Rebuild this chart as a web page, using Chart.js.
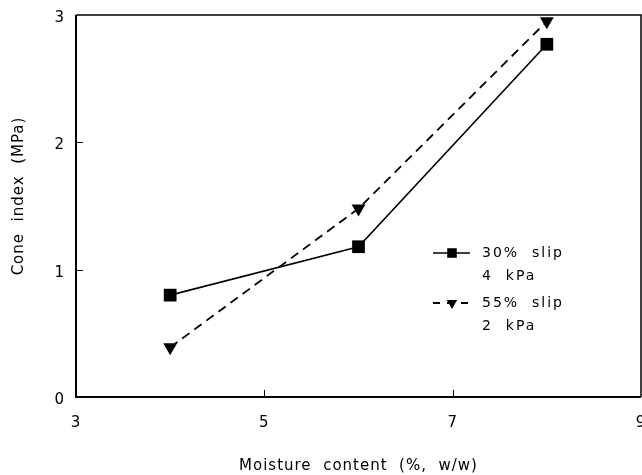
<!DOCTYPE html>
<html>
<head>
<meta charset="utf-8">
<script src="https://cdn.jsdelivr.net/npm/chart.js@4/dist/chart.umd.min.js"></script>
<style>
  html, body { margin: 0; padding: 0; background: #fff; overflow: hidden; }
  #wrap { width: 642px; height: 475px; overflow: hidden; }
</style>
</head>
<body>
<div id="wrap"><canvas id="cone-chart" width="650" height="475"></canvas></div>
<script>
// data
const moisture = [4, 6, 8];
const slip30 = [0.80, 1.18, 2.77];
const slip55 = [0.39, 1.48, 2.95];
const xTicks = [3, 5, 7, 9];
const yTicks = [0, 1, 2, 3];
const label30 = ["30%  slip", "4  kPa"];
const label55 = ["55%  slip", "2  kPa"];

const font = "DejaVu Sans";

// wide letter spacing like the old plotter font
const spacing = {
    id: 'spacing',
    beforeLayout(chart) { chart.ctx.letterSpacing = '1px'; },
    beforeDraw(chart) { chart.ctx.letterSpacing = '1px'; }
};

// box round the plot and inward tick marks
const frame = {
    id: 'frame',
    afterDatasetsDraw(chart) {
        const ctx = chart.ctx;
        const a = chart.chartArea;
        const xs = chart.scales.x, ys = chart.scales.y;
        ctx.save();
        ctx.strokeStyle = '#000';
        ctx.lineWidth = 1.5;
        ctx.beginPath();
        ctx.moveTo(a.left, a.top);
        ctx.lineTo(a.right, a.top);
        ctx.lineTo(a.right, a.bottom);
        ctx.stroke();
        ctx.lineWidth = 2;
        ctx.beginPath();
        ctx.moveTo(a.left, a.top);
        ctx.lineTo(a.left, a.bottom);
        ctx.lineTo(a.right, a.bottom);
        ctx.stroke();
        ctx.lineWidth = 1;
        ctx.beginPath();
        xTicks.slice(1, -1).forEach(v => {
            const px = Math.round(xs.getPixelForValue(v)) + 0.5;
            ctx.moveTo(px, a.bottom);
            ctx.lineTo(px, a.bottom - 7);
        });
        yTicks.slice(1, -1).forEach(v => {
            const py = Math.round(ys.getPixelForValue(v)) + 0.5;
            ctx.moveTo(a.left, py);
            ctx.lineTo(a.left + 7, py);
        });
        ctx.stroke();

        // y axis title
        ctx.fillStyle = '#000';
        ctx.letterSpacing = '1px';
        ctx.font = '15px "' + font + '"';
        ctx.textAlign = 'center';
        ctx.textBaseline = 'middle';
        ctx.translate(19, 196);
        ctx.rotate(-Math.PI / 2);
        ctx.fillText('Cone  index  (MPa)', 0, 0);
        ctx.restore();
    }
};

// legend with two-line labels, placed inside the plot
const boxLegend = {
    id: 'boxLegend',
    afterDatasetsDraw(chart) {
        const ctx = chart.ctx;
        const rows = [
            { ds: chart.data.datasets[0], lines: label30, y: 253 },
            { ds: chart.data.datasets[1], lines: label55, y: 303 }
        ];
        ctx.save();
        rows.forEach(r => {
            ctx.strokeStyle = '#000';
            ctx.lineWidth = r.ds.borderWidth;
            ctx.setLineDash(r.ds.borderDash ? [7, 7] : []);
            ctx.beginPath();
            ctx.moveTo(433, r.y);
            ctx.lineTo(470, r.y);
            ctx.stroke();
            ctx.setLineDash([]);
            ctx.fillStyle = '#000';
            Chart.helpers.drawPoint(ctx, {
                pointStyle: r.ds.pointStyle,
                rotation: r.ds.pointRotation || 0,
                radius: r.ds.pointRadius * 0.75,
                borderWidth: 0
            }, 452, r.y);
            ctx.letterSpacing = '2px';
            ctx.font = '14px "' + font + '"';
            ctx.textAlign = 'left';
            ctx.textBaseline = 'middle';
            r.lines.forEach((t, i) => ctx.fillText(t, 482, r.y + i * 23));
        });
        ctx.restore();
    }
};

const points30 = moisture.map((m, i) => ({ x: m, y: slip30[i] }));
const points55 = moisture.map((m, i) => ({ x: m, y: slip55[i] }));

const coneChart = new Chart(document.getElementById('cone-chart'), {
    type: 'line',
    data: {
        datasets: [{
            label: label30.join(' '),
            data: points30,
            borderColor: '#000',
            borderWidth: 1.6,
            backgroundColor: '#000',
            pointStyle: 'rect',
            pointRadius: 9,
            pointBorderWidth: 0,
            tension: 0
        }, {
            label: label55.join(' '),
            data: points55,
            borderColor: '#000',
            borderWidth: 1.8,
            borderDash: [9, 6],
            backgroundColor: '#000',
            pointStyle: 'triangle',
            pointRotation: 180,
            pointRadius: 8,
            pointBorderWidth: 0,
            tension: 0
        }]
    },
    options: {
        responsive: false,
        devicePixelRatio: 1,
        animation: false,
        layout: { padding: { top: 15, right: 0, left: 0, bottom: 0 } },
        plugins: {
            legend: { display: false },
            tooltip: { enabled: false }
        },
        scales: {
            x: {
                type: 'linear',
                min: 3,
                max: 9,
                afterBuildTicks: s => { s.ticks = xTicks.map(v => ({ value: v })); },
                afterFit: s => { s.height = 78; s.paddingLeft = 0; s.paddingRight = 0; },
                grid: { display: false, drawTicks: false },
                border: { display: false },
                ticks: { color: '#000', padding: 17, font: { family: font, size: 15 } },
                title: {
                    display: true,
                    text: 'Moisture  content  (%,  w/w)',
                    color: '#000',
                    font: { family: font, size: 15 },
                    padding: { top: 4, bottom: 0 }
                }
            },
            y: {
                type: 'linear',
                min: 0,
                max: 3,
                afterBuildTicks: s => { s.ticks = yTicks.map(v => ({ value: v })); },
                afterFit: s => { s.width = 76; s.paddingTop = 0; s.paddingBottom = 0; },
                grid: { display: false, drawTicks: false },
                border: { display: false },
                ticks: { color: '#000', padding: 11, labelOffset: 3, font: { family: font, size: 15 } }
            }
        }
    },
    plugins: [spacing, frame, boxLegend]
});
</script>
</body>
</html>
